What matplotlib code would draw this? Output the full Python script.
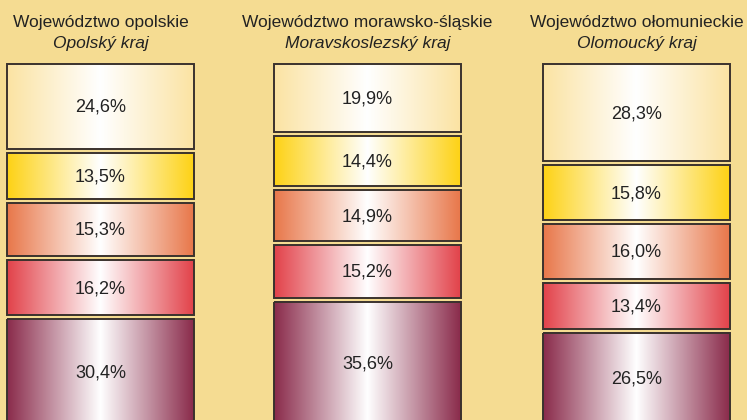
import matplotlib.pyplot as plt
import matplotlib.colors as mcolors
import numpy as np

regions_pl = ["Województwo opolskie", "Województwo morawsko-śląskie", "Województwo ołomunieckie"]
regions_cz = ["Opolský kraj", "Moravskoslezský kraj", "Olomoucký kraj"]

# shares top -> bottom
opolskie = [24.6, 13.5, 15.3, 16.2, 30.4]
morawsko = [19.9, 14.4, 14.9, 15.2, 35.6]
olomuniecke = [28.3, 15.8, 16.0, 13.4, 26.5]
values = [opolskie, morawsko, olomuniecke]

seg_colors = ['#FBE3A2', '#FDD215', '#E8774A', '#E2424A', '#8A2B4B']
bg = '#F5DC92'

W, H = 747, 420
fig = plt.figure(figsize=(W / 100, H / 100), dpi=100, facecolor=bg)
ax = fig.add_axes([0, 0, 1, 1])
ax.set_xlim(0, W)
ax.set_ylim(H, 0)
ax.axis('off')
ax.set_facecolor(bg)

plt.rcParams['font.family'] = ['Liberation Sans', 'DejaVu Sans']

centers = [100.5, 367.5, 636.5]
bar_w = 187
y0 = 64
scale = 3.44   # px per percent
gap = 4

# horizontal profile: white centre, colour at edges
xs = np.linspace(-1, 1, 256)
t = np.abs(xs)

for cx, vals, t_pl, t_cz in zip(centers, values, regions_pl, regions_cz):
    ax.text(cx, 27, t_pl, ha='center', va='baseline', fontsize=12.5, color='#222222')
    ax.text(cx, 48, t_cz, ha='center', va='baseline', fontsize=12.5, style='italic', color='#222222')
    y = y0
    for v, c in zip(vals, seg_colors):
        h = v * scale
        rgb = np.array(mcolors.to_rgb(c))
        img = (1 - t[:, None]) * np.ones(3) + t[:, None] * rgb
        img = img[None, :, :]
        x1 = cx - bar_w / 2
        ax.imshow(img, extent=[x1, x1 + bar_w, y + h, y], aspect='auto',
                  interpolation='bilinear', zorder=1)
        ax.add_patch(plt.Rectangle((x1, y), bar_w, h, fill=False,
                                   edgecolor='#3a322d', lw=1.4, zorder=2))
        ax.text(cx, y + h / 2 - 1, f"{v:.1f}%".replace('.', ','), ha='center',
                va='center_baseline', fontsize=13, color='#222222', zorder=3)
        y += h + gap

ax.set_xlim(0, W)
ax.set_ylim(H, 0)
fig.savefig('out.png', dpi=100, facecolor=bg)
